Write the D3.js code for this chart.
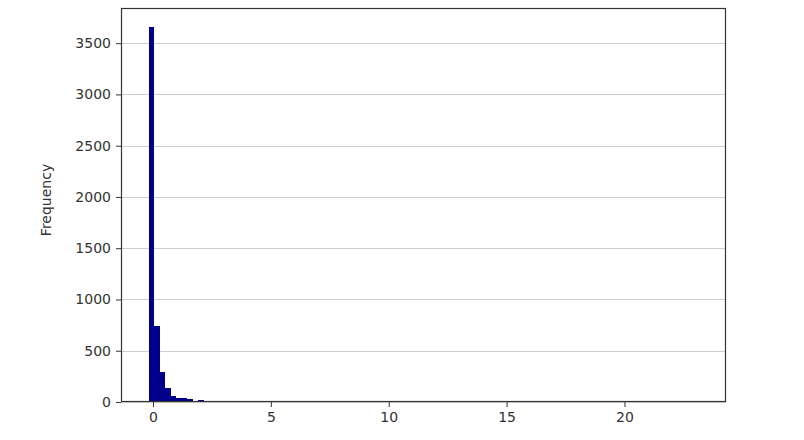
<!DOCTYPE html>
<html>
<head>
<meta charset="utf-8">
<script src="https://cdn.jsdelivr.net/npm/d3@7"></script>
<style>
  body { margin: 0; background: #fff; }
  svg { display: block; font-family: "DejaVu Sans", sans-serif; }
</style>
</head>
<body>
<svg width="804" height="440"></svg>
<script>
  // histogram of 100 equal bins between binMin and binMax
  const binMin = -0.19;
  const binMax = 23.14;
  const binCount = 100;
  // counts of the leading bins (index 0..)
  const headCounts = [3660, 745, 293, 137, 59, 39, 38, 28, 4, 24, 6, 3];
  // sparse far tail: [bin index, count]
  const tailCounts = [[13, 2], [15, 1], [18, 1], [24, 1], [37, 1], [99, 1]];
  const xTicks = [0, 5, 10, 15, 20];
  const yTicks = [0, 500, 1000, 1500, 2000, 2500, 3000, 3500];

  (function () {
    "use strict";
    const counts = new Array(binCount).fill(0);
    headCounts.forEach((c, i) => (counts[i] = c));
    tailCounts.forEach(([i, c]) => (counts[i] = c));
    const step = (binMax - binMin) / binCount;
    const bins = counts.map((c, i) => ({
      x0: binMin + i * step,
      x1: binMin + (i + 1) * step,
      count: c,
    }));

    const svg = d3.select("svg");
    const left = 121, right = 726, top = 8, bottom = 402;

    const pad = (binMax - binMin) * 0.05;
    const x = d3.scaleLinear()
      .domain([binMin - pad, binMax + pad])
      .range([left, right]);
    const y = d3.scaleLinear()
      .domain([0, d3.max(counts) * 1.05])
      .range([bottom, top]);

    // horizontal grid only
    svg.append("g")
      .selectAll("line")
      .data(yTicks)
      .join("line")
      .attr("x1", left)
      .attr("x2", right)
      .attr("y1", (d) => Math.round(y(d)) + 0.5)
      .attr("y2", (d) => Math.round(y(d)) + 0.5)
      .attr("stroke", "#cfcfcf")
      .attr("stroke-width", 1);

    svg.append("g")
      .attr("shape-rendering", "crispEdges")
      .selectAll("rect")
      .data(bins.filter((d) => d.count > 0))
      .join("rect")
      .attr("x", (d) => x(d.x0))
      .attr("width", (d) => x(d.x1) - x(d.x0) + 0.3)
      .attr("y", (d) => y(d.count))
      .attr("height", (d) => y(0) - y(d.count))
      .attr("fill", "#00008b");

    const xAxis = svg.append("g")
      .attr("transform", `translate(0,${bottom})`)
      .call(d3.axisBottom(x).tickValues(xTicks).tickFormat(d3.format("d")).tickSize(5).tickPadding(5));
    const yAxis = svg.append("g")
      .attr("transform", `translate(${left},0)`)
      .call(d3.axisLeft(y).tickValues(yTicks).tickFormat(d3.format("d")).tickSize(5).tickPadding(5));

    [xAxis, yAxis].forEach((a) => {
      a.select(".domain").remove();
      a.selectAll("line").attr("stroke", "#333");
      a.selectAll("text")
        .attr("fill", "#333")
        .style("font-size", "14px")
        .style("font-family", "DejaVu Sans, sans-serif");
    });

    // frame
    svg.append("rect")
      .attr("x", left + 0.5)
      .attr("y", top + 0.5)
      .attr("width", right - left - 1)
      .attr("height", bottom - top - 1)
      .attr("fill", "none")
      .attr("stroke", "#333")
      .attr("stroke-width", 1.2);

    svg.append("text")
      .attr("transform", `translate(51,200) rotate(-90)`)
      .attr("text-anchor", "middle")
      .attr("fill", "#333")
      .style("font-size", "14px")
      .text("Frequency");
  })();
</script>
</body>
</html>
